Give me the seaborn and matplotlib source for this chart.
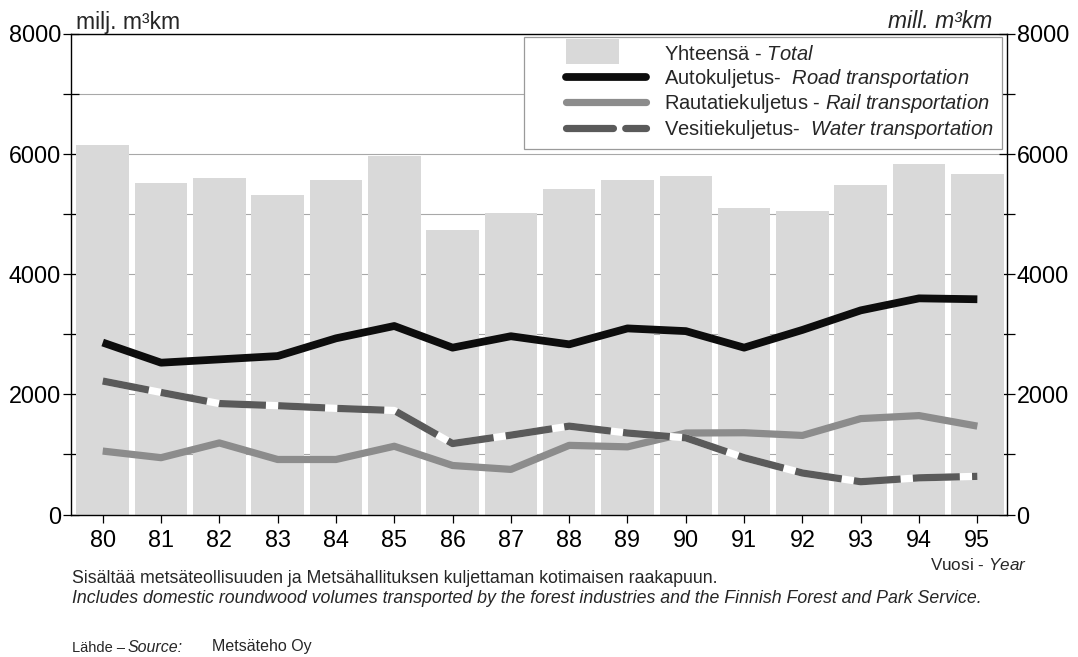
import numpy as np
import pandas as pd
import matplotlib
matplotlib.use("Agg")
import matplotlib.pyplot as plt
import seaborn as sns
from matplotlib.legend_handler import HandlerLine2D, HandlerPatch
from matplotlib.patches import Rectangle

# ---------------- data ----------------
years = ['80', '81', '82', '83', '84', '85', '86', '87',
         '88', '89', '90', '91', '92', '93', '94', '95']
total = [6140, 5510, 5590, 5320, 5560, 5960, 4725, 5020,
         5410, 5560, 5635, 5090, 5050, 5475, 5830, 5660]
road = [2860, 2525, 2580, 2635, 2930, 3135, 2775, 2965,
        2830, 3095, 3050, 2775, 3070, 3395, 3595, 3580]
rail = [1055, 945, 1190, 915, 915, 1135, 815, 750,
        1150, 1125, 1355, 1360, 1315, 1595, 1645, 1470]
water = [2220, 2030, 1845, 1810, 1765, 1730, 1180, 1320,
         1470, 1355, 1275, 945, 690, 545, 610, 635]

labels = ["Yhteensä - $\\mathit{Total}$",
          "Autokuljetus-  $\\mathit{Road\\ transportation}$",
          "Rautatiekuljetus - $\\mathit{Rail\\ transportation}$",
          "Vesitiekuljetus-  $\\mathit{Water\\ transportation}$"]
yticks = [0, 1000, 2000, 3000, 4000, 5000, 6000, 7000, 8000]
ytick_labels = ['0', '', '2000', '', '4000', '', '6000', '', '8000']

df = pd.DataFrame({"year": years, "total": total, "road": road,
                   "rail": rail, "water": water})
df["pos"] = np.arange(len(df))

# ---------------- style ----------------
sns.set_style("white")
plt.rcParams['font.family'] = ['Liberation Sans', 'DejaVu Sans']
plt.rcParams['mathtext.fontset'] = 'custom'
plt.rcParams['mathtext.rm'] = 'Liberation Sans'
plt.rcParams['mathtext.it'] = 'Liberation Sans:italic'
plt.rcParams['mathtext.bf'] = 'Liberation Sans:bold'

W, H = 1078, 657
fig = plt.figure(figsize=(W / 100, H / 100), dpi=100)
ax = fig.add_axes([71 / W, 1 - 514.5 / H, (1006.5 - 71) / W, (514.5 - 33.5) / H])

BAR = '#d9d9d9'
ROAD = '#0d0d0d'
RAIL = '#8c8c8c'
WATER = '#5a5a5a'
LW = 5.6

sns.barplot(data=df, x="year", y="total", color=BAR, saturation=1,
            width=0.9, errorbar=None, linewidth=0, ax=ax, zorder=1)
bar_handle = ax.patches[0]

sns.lineplot(data=df, x="pos", y="road", color=ROAD, lw=LW, ax=ax,
             zorder=4, solid_capstyle='butt')
road_line = ax.lines[-1]
sns.lineplot(data=df, x="pos", y="rail", color=RAIL, lw=LW - 0.4, ax=ax,
             zorder=3, solid_capstyle='butt')
rail_line = ax.lines[-1]
sns.lineplot(data=df, x="pos", y="water", color='white', lw=LW - 0.4, ax=ax,
             zorder=3.1, solid_capstyle='butt')
sns.lineplot(data=df, x="pos", y="water", color=WATER, lw=LW - 0.4, ax=ax,
             zorder=3.2, linestyle=(0, (6.5, 1.7)), dash_capstyle='butt')
water_line = ax.lines[-1]

ax.set_xlim(-0.544, 15.5)
ax.set_ylim(0, 8000)
ax.set_xlabel('')
ax.set_ylabel('')

ax.set_yticks(yticks)
ax.set_yticklabels(ytick_labels)
ax.yaxis.grid(True, color='#a8a8a8', lw=0.8)
ax.xaxis.grid(False)
ax.set_axisbelow(True)

for s in ax.spines.values():
    s.set_visible(True)
    s.set_color('black')
    s.set_linewidth(1.0)

ax.tick_params(axis='y', which='both', left=True, right=True,
               labelleft=True, labelright=True, direction='inout',
               length=11.5, width=0.9, pad=1.5, labelsize=16.8, colors='black')
ax.tick_params(axis='x', bottom=True, direction='out', length=6, width=0.9,
               pad=4.3, labelsize=16.8, colors='black')

# ---------------- legend ----------------
LFS = 14.5
SHIFT = 24.5  # points


class ShiftedLine(HandlerLine2D):
    def __init__(self, shift, **kw):
        super().__init__(**kw)
        self.shift = shift

    def create_artists(self, legend, orig_handle, xdescent, ydescent,
                       width, height, fontsize, trans):
        arts = super().create_artists(legend, orig_handle, xdescent - self.shift,
                                      ydescent, width - self.shift, height,
                                      fontsize, trans)
        for a in arts:
            try:
                a.set_solid_capstyle('round')
                a.set_dash_capstyle('round')
            except Exception:
                pass
        return arts


def rect_func(legend, orig_handle, xdescent, ydescent, width, height, fontsize):
    h = 18.0
    return Rectangle((-xdescent + SHIFT, -ydescent + height / 2 - h / 2 + 1.0), 38.0, h)


sl = ShiftedLine(SHIFT)
leg = ax.legend([bar_handle, road_line, rail_line, water_line], labels,
                loc='upper right',
                bbox_to_anchor=(1002 / W, 1 - 37.3 / H),
                bbox_transform=fig.transFigure, borderaxespad=0,
                fontsize=LFS, frameon=True, fancybox=False, framealpha=1,
                edgecolor='#9a9a9a', facecolor='white',
                handlelength=5.66, handletextpad=0.9, labelspacing=0.12,
                borderpad=0.4,
                handler_map={road_line: sl, rail_line: sl, water_line: sl,
                             bar_handle: HandlerPatch(patch_func=rect_func)})
leg.get_frame().set_linewidth(0.9)
leg.set_zorder(10)

# ---------------- texts ----------------
fig.text(76.5 / W, 1 - 28.5 / H, 'milj. m³km', fontsize=16.5, va='baseline', ha='left')
fig.text(992 / W, 1 - 28.5 / H, 'mill. m³km', fontsize=16.5, va='baseline', ha='right',
         style='italic')
fig.text(1027 / W, 1 - 570 / H, 'Vuosi - $\\mathit{Year}$', fontsize=12.3,
         va='baseline', ha='right')
fig.text(72 / W, 1 - 583 / H,
         'Sisältää metsäteollisuuden ja Metsähallituksen kuljettaman kotimaisen raakapuun.',
         fontsize=12.8, va='baseline', ha='left')
fig.text(72 / W, 1 - 603 / H,
         'Includes domestic roundwood volumes transported by the forest industries '
         'and the Finnish Forest and Park Service.',
         fontsize=12.8, va='baseline', ha='left', style='italic')
fig.text(72 / W, 1 - 651.5 / H, 'Lähde –', fontsize=10.5,
         va='baseline', ha='left')
fig.text(128 / W, 1 - 651.5 / H, 'Source:', fontsize=11.5,
         va='baseline', ha='left', style='italic')
fig.text(212 / W, 1 - 651.5 / H, 'Metsäteho Oy', fontsize=11.5,
         va='baseline', ha='left')

fig.savefig('out.png', dpi=100)
